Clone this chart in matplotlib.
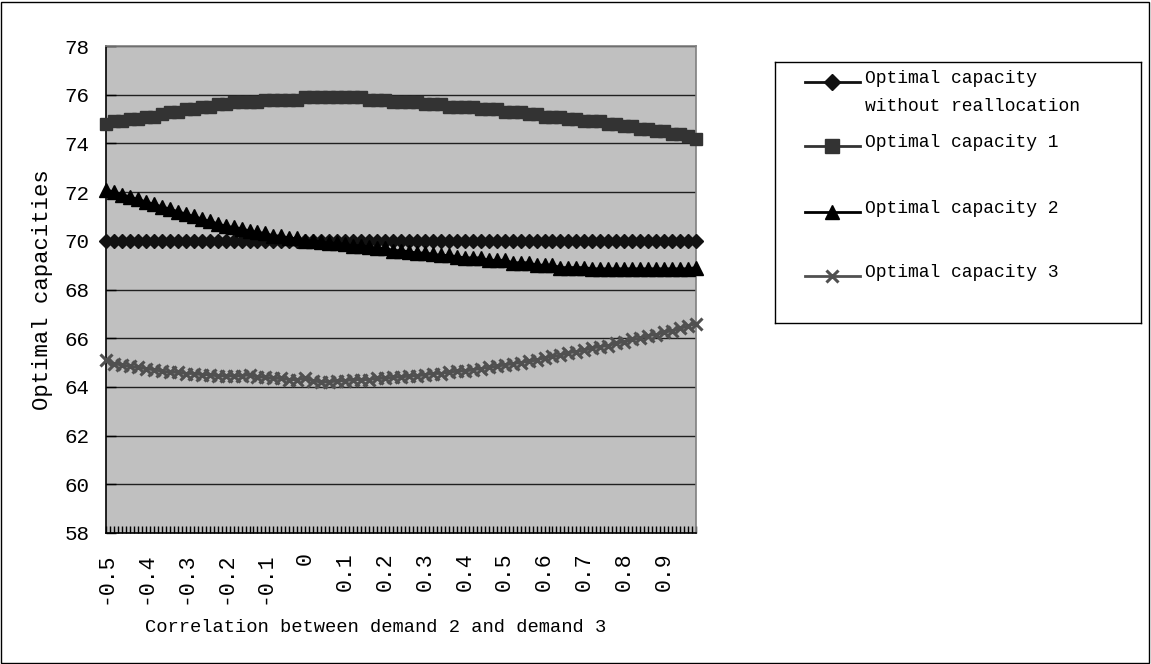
import numpy as np
import matplotlib.pyplot as plt
from matplotlib.lines import Line2D
from matplotlib.patches import Rectangle

# Correlation values (category axis), step 0.02
corr = [-0.50, -0.48, -0.46, -0.44, -0.42, -0.40, -0.38, -0.36, -0.34, -0.32,
        -0.30, -0.28, -0.26, -0.24, -0.22, -0.20, -0.18, -0.16, -0.14, -0.12,
        -0.10, -0.08, -0.06, -0.04, -0.02, 0.00, 0.02, 0.04, 0.06, 0.08,
        0.10, 0.12, 0.14, 0.16, 0.18, 0.20, 0.22, 0.24, 0.26, 0.28,
        0.30, 0.32, 0.34, 0.36, 0.38, 0.40, 0.42, 0.44, 0.46, 0.48,
        0.50, 0.52, 0.54, 0.56, 0.58, 0.60, 0.62, 0.64, 0.66, 0.68,
        0.70, 0.72, 0.74, 0.76, 0.78, 0.80, 0.82, 0.84, 0.86, 0.88,
        0.90, 0.92, 0.94, 0.96, 0.98]

# Optimal capacity without reallocation
cap0 = [70.0, 70.0, 70.0, 70.0, 70.0, 70.0, 70.0, 70.0, 70.0, 70.0,
        70.0, 70.0, 70.0, 70.0, 70.0, 70.0, 70.0, 70.0, 70.0, 70.0,
        70.0, 70.0, 70.0, 70.0, 70.0, 70.0, 70.0, 70.0, 70.0, 70.0,
        70.0, 70.0, 70.0, 70.0, 70.0, 70.0, 70.0, 70.0, 70.0, 70.0,
        70.0, 70.0, 70.0, 70.0, 70.0, 70.0, 70.0, 70.0, 70.0, 70.0,
        70.0, 70.0, 70.0, 70.0, 70.0, 70.0, 70.0, 70.0, 70.0, 70.0,
        70.0, 70.0, 70.0, 70.0, 70.0, 70.0, 70.0, 70.0, 70.0, 70.0,
        70.0, 70.0, 70.0, 70.0, 70.0]

# Optimal capacity 1
cap1 = [74.8, 74.9, 74.9, 75.0, 75.0, 75.1, 75.1, 75.2, 75.3, 75.3,
        75.4, 75.4, 75.5, 75.5, 75.6, 75.6, 75.7, 75.7, 75.7, 75.7,
        75.8, 75.8, 75.8, 75.8, 75.8, 75.9, 75.9, 75.9, 75.9, 75.9,
        75.9, 75.9, 75.9, 75.8, 75.8, 75.8, 75.7, 75.7, 75.7, 75.7,
        75.6, 75.6, 75.6, 75.5, 75.5, 75.5, 75.5, 75.4, 75.4, 75.4,
        75.3, 75.3, 75.3, 75.2, 75.2, 75.1, 75.1, 75.1, 75.0, 75.0,
        74.9, 74.9, 74.9, 74.8, 74.8, 74.7, 74.7, 74.6, 74.6, 74.5,
        74.5, 74.4, 74.4, 74.3, 74.2]

# Optimal capacity 2
cap2 = [72.1, 72.0, 71.9, 71.8, 71.7, 71.6, 71.5, 71.4, 71.3, 71.2,
        71.1, 71.0, 70.9, 70.8, 70.7, 70.6, 70.55, 70.5, 70.4, 70.35,
        70.3, 70.2, 70.2, 70.1, 70.1, 70.0, 70.0, 69.95, 69.9, 69.9,
        69.85, 69.8, 69.8, 69.75, 69.7, 69.7, 69.6, 69.6, 69.55, 69.5,
        69.5, 69.45, 69.4, 69.4, 69.35, 69.3, 69.3, 69.3, 69.2, 69.2,
        69.2, 69.1, 69.1, 69.1, 69.0, 69.0, 69.0, 68.9, 68.9, 68.9,
        68.9, 68.85, 68.85, 68.85, 68.85, 68.85, 68.85, 68.85, 68.85, 68.85,
        68.85, 68.85, 68.85, 68.85, 68.9]

# Optimal capacity 3
cap3 = [65.1, 64.95, 64.9, 64.85, 64.8, 64.75, 64.7, 64.65, 64.6, 64.6,
        64.55, 64.55, 64.5, 64.5, 64.45, 64.45, 64.45, 64.45, 64.5, 64.4,
        64.4, 64.35, 64.35, 64.3, 64.3, 64.35, 64.25, 64.2, 64.2, 64.25,
        64.25, 64.3, 64.3, 64.3, 64.35, 64.35, 64.4, 64.4, 64.45, 64.45,
        64.5, 64.55, 64.55, 64.6, 64.65, 64.65, 64.7, 64.75, 64.8, 64.85,
        64.9, 64.95, 65.0, 65.05, 65.1, 65.2, 65.25, 65.3, 65.4, 65.45,
        65.5, 65.6, 65.65, 65.7, 65.8, 65.85, 65.95, 66.0, 66.1, 66.15,
        66.25, 66.3, 66.4, 66.5, 66.6]

tick_labels = ["-0.5", "-0.4", "-0.3", "-0.2", "-0.1", "0", "0.1", "0.2",
               "0.3", "0.4", "0.5", "0.6", "0.7", "0.8", "0.9"]

labels = ["Optimal capacity\nwithout reallocation", "Optimal capacity 1",
          "Optimal capacity 2", "Optimal capacity 3"]

FONT = "Liberation Mono"
plt.rcParams["font.family"] = FONT

fig = plt.figure(figsize=(11.51, 6.64), dpi=100)
ax = fig.add_axes([106 / 1151, 1 - 533 / 664, 590 / 1151, 487 / 664])
ax.set_facecolor("#c0c0c0")

idx = np.arange(len(corr))

# series styles: (values, marker, color, markersize, mew)
series = [
    (cap0, "D", "#111111", 7.5, 1),
    (cap1, "s", "#333333", 9, 1),
    (cap2, "^", "#000000", 10, 1),
    (cap3, "x", "#505050", 8.5, 2.2),
]

for vals, mk, col, ms, mew in series:
    ax.plot(idx, vals, color=col, lw=2, marker=mk, ms=ms, mew=mew,
            mec=col, mfc=col, clip_on=False, zorder=3)

ax.set_ylim(58, 78)
ax.set_xlim(0, len(corr) - 1)
ax.set_yticks(np.arange(58, 79, 2))
ax.yaxis.grid(True, color="#202020", lw=1)
ax.set_axisbelow(True)

ax.set_xticks(idx[::5])
ax.set_xticklabels(tick_labels, rotation=90, fontsize=15.5, va="top")
ax.set_xticks(np.arange(0, len(corr) - 0.5, 0.5), minor=True)
ax.tick_params(axis="x", which="both", direction="in", length=5, width=1, pad=14)
ax.tick_params(axis="y", direction="in", length=7, width=1, pad=12, labelsize=15)

for s in ["top", "right"]:
    ax.spines[s].set_color("#808080")
for s in ["left", "bottom"]:
    ax.spines[s].set_color("black")
for s in ax.spines.values():
    s.set_linewidth(1.2)

ax.set_ylabel("Optimal capacities", fontsize=16)
ax.yaxis.set_label_coords(-53 / 590, 0.5)
ax.set_xlabel("Correlation between demand 2 and demand 3", fontsize=13.5)
ax.xaxis.set_label_coords((376 - 106) / 590, -(619 - 533) / 487)

# legend box drawn on its own axes
lax = fig.add_axes([775 / 1151, 1 - 323 / 664, 366 / 1151, 261 / 664])
lax.set_xlim(775, 1141)
lax.set_ylim(323, 62)
lax.set_xticks([])
lax.set_yticks([])
for s in lax.spines.values():
    s.set_color("black")
    s.set_linewidth(1)

entry_y = [82, 146, 212, 276]
for (vals, mk, col, ms, mew), lab, yy in zip(series, labels, entry_y):
    lax.add_line(Line2D([805, 860], [yy, yy], color=col, lw=2))
    lax.add_line(Line2D([832], [yy], marker=mk, ms=ms * 1.05, mew=mew, color=col,
                        mec=col, mfc=col))
    lax.text(865, yy - 12, lab, fontsize=13, va="top", ha="left",
             linespacing=1.85)

# outer chart border
fig.patches.append(Rectangle((1 / 1151, 1 / 664), 1148 / 1151, 661 / 664,
                             transform=fig.transFigure, fill=False,
                             edgecolor="black", lw=1))

fig.savefig("out.png", dpi=100)
